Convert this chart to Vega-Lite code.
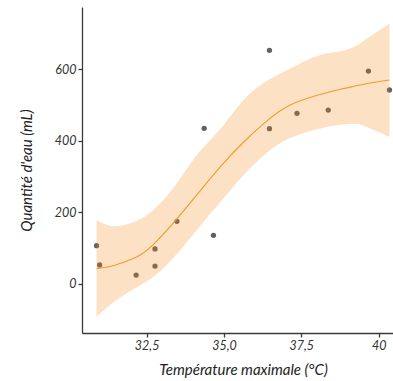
{
  "$schema": "https://vega.github.io/schema/vega-lite/v6.json",
  "autosize": {"type": "none"},
  "padding": {"left": 82, "top": 7, "right": 0, "bottom": 48},
  "width": 322,
  "height": 326,
  "background": "white",
  "datasets": {
    "points": [
      {"temp": 30.88, "eau": 107},
      {"temp": 30.98, "eau": 53},
      {"temp": 32.16, "eau": 25},
      {"temp": 32.77, "eau": 98},
      {"temp": 32.77, "eau": 50},
      {"temp": 33.48, "eau": 175},
      {"temp": 34.36, "eau": 435},
      {"temp": 34.66, "eau": 136},
      {"temp": 36.47, "eau": 653},
      {"temp": 36.47, "eau": 434},
      {"temp": 37.36, "eau": 477},
      {"temp": 38.37, "eau": 486},
      {"temp": 39.67, "eau": 595},
      {"temp": 40.35, "eau": 542}
    ],
    "smooth": [
      {"temp": 30.88, "fit": 43, "lo": -92, "hi": 178},
      {"temp": 31.31, "fit": 49, "lo": -59, "hi": 163},
      {"temp": 31.74, "fit": 60, "lo": -32, "hi": 164},
      {"temp": 32.28, "fit": 80, "lo": -4, "hi": 181},
      {"temp": 32.82, "fit": 119, "lo": 27, "hi": 215},
      {"temp": 33.47, "fit": 181, "lo": 83, "hi": 281},
      {"temp": 34.17, "fit": 254, "lo": 156, "hi": 365},
      {"temp": 34.93, "fit": 332, "lo": 234, "hi": 438},
      {"temp": 35.63, "fit": 396, "lo": 304, "hi": 514},
      {"temp": 36.38, "fit": 455, "lo": 366, "hi": 567},
      {"temp": 37.14, "fit": 500, "lo": 408, "hi": 602},
      {"temp": 38.05, "fit": 528, "lo": 433, "hi": 638},
      {"temp": 38.76, "fit": 544, "lo": 445, "hi": 650},
      {"temp": 39.24, "fit": 553, "lo": 447, "hi": 664},
      {"temp": 39.56, "fit": 559, "lo": 441, "hi": 682},
      {"temp": 40.35, "fit": 570, "lo": 411, "hi": 728}
    ]
  },
  "config": {
    "view": {"stroke": null},
    "axis": {
      "grid": false,
      "domainColor": "#3a3a3a",
      "domainWidth": 1.3,
      "tickColor": "#3a3a3a",
      "tickWidth": 1.3,
      "tickSize": 4,
      "labelFont": "Lato",
      "labelFontStyle": "italic",
      "labelFontSize": 12.5,
      "labelColor": "#333333",
      "labelPadding": 2,
      "titleFont": "Lato",
      "titleFontStyle": "italic",
      "titleFontWeight": "normal",
      "titleFontSize": 15,
      "titleColor": "#222222"
    }
  },
  "layer": [
    {
      "data": {"name": "points"},
      "mark": {"type": "circle", "size": 28, "opacity": 1, "color": "#626266"},
      "encoding": {
        "x": {
          "field": "temp", "type": "quantitative",
          "scale": {"domain": [30.41, 40.82], "nice": false, "zero": false},
          "axis": {
            "title": "Température maximale (°C)",
            "values": [32.5, 35, 37.5, 40],
            "labelExpr": "datum.value == 40 ? '40' : replace(format(datum.value, '.1f'), '.', ',')",
            "titlePadding": 11
          }
        },
        "y": {
          "field": "eau", "type": "quantitative",
          "scale": {"domain": [-137, 774], "nice": false, "zero": false},
          "axis": {
            "title": "Quantité d'eau (mL)",
            "values": [0, 200, 400, 600],
            "titlePadding": 20
          }
        }
      }
    },
    {
      "data": {"name": "smooth"},
      "mark": {"type": "area", "color": "#f78713", "opacity": 0.25, "interpolate": "natural"},
      "encoding": {
        "x": {"field": "temp", "type": "quantitative"},
        "y": {"field": "lo", "type": "quantitative"},
        "y2": {"field": "hi"}
      }
    },
    {
      "data": {"name": "smooth"},
      "mark": {"type": "line", "color": "#f39a2a", "strokeWidth": 1.1, "interpolate": "natural"},
      "encoding": {
        "x": {"field": "temp", "type": "quantitative"},
        "y": {"field": "fit", "type": "quantitative"}
      }
    }
  ]
}
